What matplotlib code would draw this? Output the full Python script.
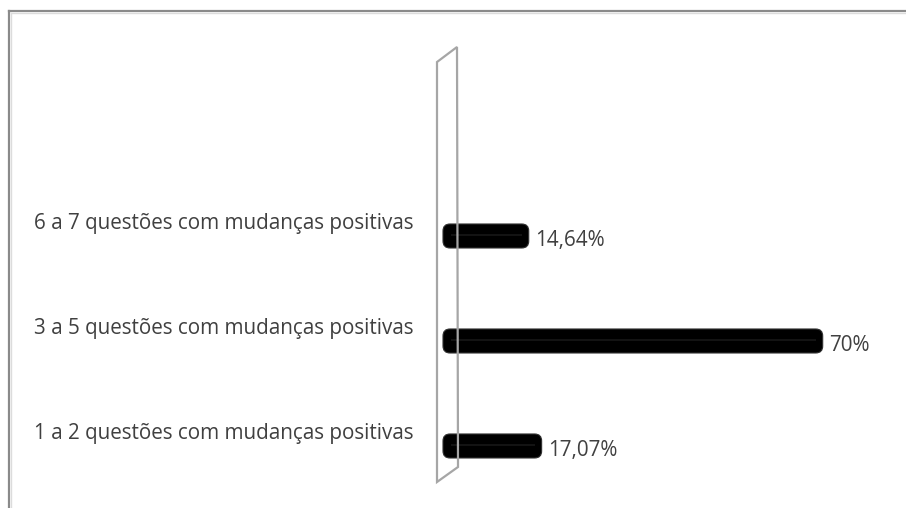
import matplotlib.pyplot as plt
from matplotlib.patches import FancyBboxPatch, Polygon
from matplotlib.lines import Line2D

# Respostas agrupadas por número de questões com mudanças positivas
categorias = [
    "1 a 2 questões com mudanças positivas",
    "3 a 5 questões com mudanças positivas",
    "6 a 7 questões com mudanças positivas",
]
percentuais = [17.07, 70.0, 14.64]
rotulos = ["17,07%", "70%", "14,64%"]

W, H = 906, 508
fig = plt.figure(figsize=(W / 100, H / 100), dpi=100)
plt.rcParams['font.family'] = ['Open Sans', 'DejaVu Sans']

# area de plotagem (em pixels da figura)
x0_px, px_por_pct = 451, 5.31
y_top_px, y_bot_px = 47, 482
ax = fig.add_axes([x0_px / W, (H - y_bot_px) / H,
                   px_por_pct * 80 / W, (y_bot_px - y_top_px) / H])
ax.set_xlim(0, 80)
ax.set_ylim(-0.343, 3.8)
ax.axis('off')

# escala y: 105 px por categoria, x: px_por_pct por ponto percentual
aspect = (1 / 105) / (1 / px_por_pct)
altura = 24 / 105
profundidade = 8 / px_por_pct  # recuo da barra 3D atras do eixo
raio = 7 / px_por_pct

for i, v in enumerate(percentuais):
    barra = FancyBboxPatch((-profundidade, i - altura / 2), v + profundidade, altura,
                           boxstyle=f"round,pad=0,rounding_size={raio}",
                           mutation_aspect=aspect, facecolor='black',
                           edgecolor='#303030', linewidth=0.8, zorder=3, clip_on=False)
    ax.add_patch(barra)
    # reflexo sutil no meio da barra
    ax.plot([-profundidade + raio, v - raio], [i + 0.01, i + 0.01],
            color='#181818', linewidth=1.2, zorder=4, solid_capstyle='butt')
    ax.annotate(rotulos[i], xy=(v, i), xytext=(6, -5), textcoords='offset pixels',
                ha='left', va='center', fontsize=14.9, color='#404040')
    ax.annotate(categorias[i], xy=(0, i), xytext=(-37, 12), textcoords='offset pixels',
                ha='right', va='center', fontsize=14.9, color='#404040',
                annotation_clip=False)

# parede lateral do eixo em perspectiva
dx_esq, dx_dir = -14 / px_por_pct, 6 / px_por_pct
parede = Polygon([(dx_esq, 3.657), (dx_dir, 3.8), (dx_dir + 0.19, -0.2), (dx_esq, -0.343)],
                 closed=True, fill=False, edgecolor='#a6a6a6', linewidth=1.6,
                 zorder=5, clip_on=False)
ax.add_patch(parede)

# moldura do grafico (cortada na direita e embaixo)
fig.add_artist(Line2D([9 / W, 9 / W], [0, 1 - 11 / H], color='#8a8a8a', linewidth=1.6))
fig.add_artist(Line2D([9 / W, 1], [1 - 11 / H, 1 - 11 / H], color='#8a8a8a', linewidth=1.6))
fig.add_artist(Line2D([11 / W, 11 / W], [0, 1 - 13 / H], color='#dcdcdc', linewidth=1.0))
fig.add_artist(Line2D([11 / W, 1], [1 - 13 / H, 1 - 13 / H], color='#dcdcdc', linewidth=1.0))

fig.savefig('out.png', dpi=100)
